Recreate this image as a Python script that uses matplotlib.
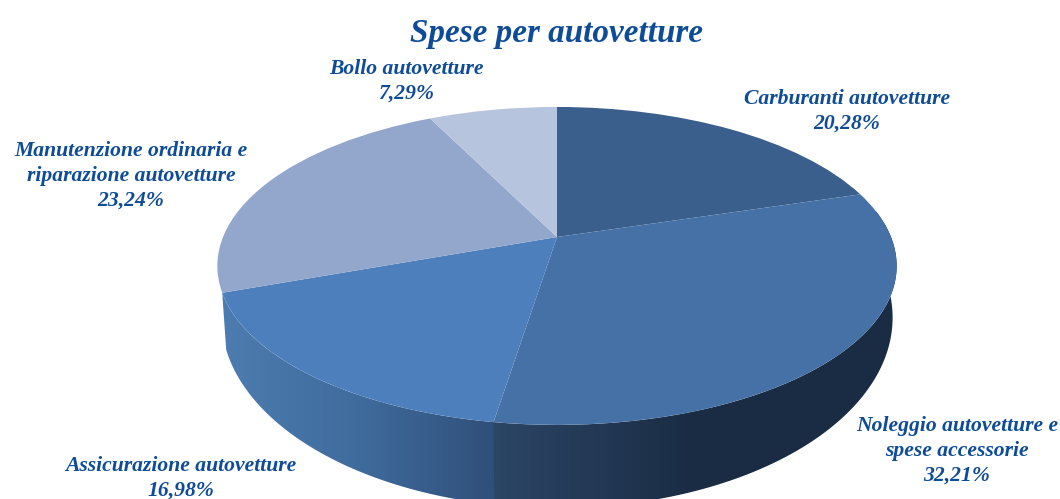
import numpy as np
import matplotlib
matplotlib.use("Agg")
import matplotlib.pyplot as plt
from matplotlib.colors import LinearSegmentedColormap
from matplotlib.patches import Polygon
from matplotlib.transforms import Transform

# === data ===
categories = [
    "Carburanti autovetture",
    "Noleggio autovetture e\nspese accessorie",
    "Assicurazione autovetture",
    "Manutenzione ordinaria e\nriparazione autovetture",
    "Bollo autovetture",
]
shares = [20.28, 32.21, 16.98, 23.24, 7.29]
share_labels = ["20,28%", "32,21%", "16,98%", "23,24%", "7,29%"]
top_colors = ["#3A5F8C", "#4571A6", "#4C7FBC", "#93A7CD", "#B7C4DD"]
title = "Spese per autovetture"

plt.rcParams["font.family"] = ["Liberation Serif", "DejaVu Serif"]
text_color = "#0F4C97"


class Tilt(Transform):
    """Perspective view of the unit circle, output in image pixels."""
    input_dims = 2
    output_dims = 2
    is_separable = False
    has_inverse = False

    def __init__(self, cx, cy, ax_, by, k):
        super().__init__()
        self.cx, self.cy, self.ax_, self.by, self.k = cx, cy, ax_, by, k

    def transform_non_affine(self, values):
        values = np.asarray(values, dtype=float)
        den = 1 + self.k * values[:, 1]
        return np.column_stack([self.cx + self.ax_ * values[:, 0] / den,
                                self.cy - self.by * values[:, 1] / den])


top_face = Tilt(557, 237, 334, 153.7, 0.182)
bottom_rim = Tilt(557, 283, 330, 184, 0.182)

fig = plt.figure(figsize=(10.6, 4.99), dpi=100)
ax = fig.add_axes([0, 0, 1, 1])

# top of the pie
wedges, _ = ax.pie(shares, startangle=90, counterclock=False, colors=top_colors)
for w in wedges:
    w.set_transform(top_face + ax.transData)
    w.set_linewidth(0)
    w.set_zorder(3)


def wall(start, end, colors, x0, x1, order):
    # side of the pie between two clockwise angles, shaded left to right
    t = np.radians(np.linspace(start, end, 120))
    circle = np.column_stack([np.sin(t), np.cos(t)])
    outline = np.vstack([top_face.transform(circle), bottom_rim.transform(circle)[::-1]])
    poly = Polygon(outline, closed=True, transform=ax.transData, fc="none", ec="none")
    ax.add_patch(poly)
    cmap = LinearSegmentedColormap.from_list("side", colors)
    im = ax.imshow(np.linspace(0, 1, 256)[None, :], cmap=cmap, aspect="auto",
                   extent=(x0, x1, 520, 100), zorder=order)
    im.set_clip_path(poly)


edges = np.cumsum([0] + shares) * 3.6
# the dark part runs a little past the seam so no white line shows
wall(80, edges[2] + 1, ["#2C4666", "#1A2C44", "#1A2C44"], 490, 900, 1)
wall(edges[2], edges[3], ["#4D7CB0", "#3F6B9C", "#2F4E78"], 222, 500, 2)

ax.set_xlim(0, 1060)
ax.set_ylim(499, 0)
ax.set_aspect("auto")
ax.axis("off")

ax.text(556, 33, title, color=text_color, fontsize=23.9, fontweight="bold",
        fontstyle="italic", ha="center", va="center")

label_pos = [(847, 111), (957, 451), (181, 478), (131, 176), (406, 81)]
for name, pct, (lx, ly) in zip(categories, share_labels, label_pos):
    ax.text(lx, ly, name + "\n" + pct, color=text_color, fontsize=15.6, fontweight="bold",
            fontstyle="italic", ha="center", va="center", linespacing=1.32, clip_on=False)

fig.savefig("out.png", dpi=100)
